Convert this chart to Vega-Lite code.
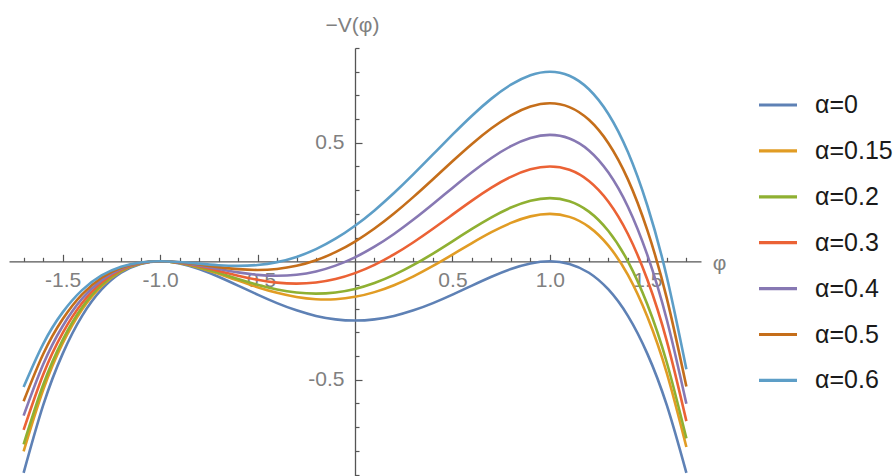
{
  "$schema": "https://vega.github.io/schema/vega-lite/v6.json",
  "width": 692,
  "height": 428,
  "autosize": "none",
  "padding": {"left": 9, "top": 48, "right": 194, "bottom": 0},
  "background": "white",
  "view": {"stroke": null},
  "config": {"font": "Liberation Sans"},
  "data": {"values": [
    {"p":-1.7,"a":"α=0","v":-0.893},{"p":-1.6,"a":"α=0","v":-0.6084},{"p":-1.5,"a":"α=0","v":-0.3906},{"p":-1.4,"a":"α=0","v":-0.2304},{"p":-1.3,"a":"α=0","v":-0.119},{"p":-1.2,"a":"α=0","v":-0.0484},{"p":-1.1,"a":"α=0","v":-0.011},{"p":-1.0,"a":"α=0","v":0},{"p":-0.9,"a":"α=0","v":-0.009},{"p":-0.8,"a":"α=0","v":-0.0324},{"p":-0.7,"a":"α=0","v":-0.065},{"p":-0.6,"a":"α=0","v":-0.1024},{"p":-0.5,"a":"α=0","v":-0.1406},{"p":-0.4,"a":"α=0","v":-0.1764},{"p":-0.3,"a":"α=0","v":-0.207},{"p":-0.2,"a":"α=0","v":-0.2304},{"p":-0.1,"a":"α=0","v":-0.245},{"p":0,"a":"α=0","v":-0.25},{"p":0.1,"a":"α=0","v":-0.245},{"p":0.2,"a":"α=0","v":-0.2304},{"p":0.3,"a":"α=0","v":-0.207},{"p":0.4,"a":"α=0","v":-0.1764},{"p":0.5,"a":"α=0","v":-0.1406},{"p":0.6,"a":"α=0","v":-0.1024},{"p":0.7,"a":"α=0","v":-0.065},{"p":0.8,"a":"α=0","v":-0.0324},{"p":0.9,"a":"α=0","v":-0.009},{"p":1.0,"a":"α=0","v":0},{"p":1.1,"a":"α=0","v":-0.011},{"p":1.2,"a":"α=0","v":-0.0484},{"p":1.3,"a":"α=0","v":-0.119},{"p":1.4,"a":"α=0","v":-0.2304},{"p":1.5,"a":"α=0","v":-0.3906},{"p":1.6,"a":"α=0","v":-0.6084},{"p":1.7,"a":"α=0","v":-0.893},
    {"p":-1.7,"a":"α=0.15","v":-0.8024},{"p":-1.6,"a":"α=0.15","v":-0.5436},{"p":-1.5,"a":"α=0.15","v":-0.3469},{"p":-1.4,"a":"α=0.15","v":-0.2032},{"p":-1.3,"a":"α=0.15","v":-0.1042},{"p":-1.2,"a":"α=0.15","v":-0.042},{"p":-1.1,"a":"α=0.15","v":-0.0095},{"p":-1.0,"a":"α=0.15","v":0},{"p":-0.9,"a":"α=0.15","v":-0.0076},{"p":-0.8,"a":"α=0.15","v":-0.0268},{"p":-0.7,"a":"α=0.15","v":-0.0529},{"p":-0.6,"a":"α=0.15","v":-0.0816},{"p":-0.5,"a":"α=0.15","v":-0.1094},{"p":-0.4,"a":"α=0.15","v":-0.1332},{"p":-0.3,"a":"α=0.15","v":-0.1507},{"p":-0.2,"a":"α=0.15","v":-0.16},{"p":-0.1,"a":"α=0.15","v":-0.16},{"p":0,"a":"α=0.15","v":-0.15},{"p":0.1,"a":"α=0.15","v":-0.1301},{"p":0.2,"a":"α=0.15","v":-0.1008},{"p":0.3,"a":"α=0.15","v":-0.0634},{"p":0.4,"a":"α=0.15","v":-0.0196},{"p":0.5,"a":"α=0.15","v":0.0281},{"p":0.6,"a":"α=0.15","v":0.0768},{"p":0.7,"a":"α=0.15","v":0.1228},{"p":0.8,"a":"α=0.15","v":0.162},{"p":0.9,"a":"α=0.15","v":0.1895},{"p":1.0,"a":"α=0.15","v":0.2},{"p":1.1,"a":"α=0.15","v":0.1874},{"p":1.2,"a":"α=0.15","v":0.1452},{"p":1.3,"a":"α=0.15","v":0.0661},{"p":1.4,"a":"α=0.15","v":-0.0576},{"p":1.5,"a":"α=0.15","v":-0.2344},{"p":1.6,"a":"α=0.15","v":-0.4732},{"p":1.7,"a":"α=0.15","v":-0.7837},
    {"p":-1.7,"a":"α=0.2","v":-0.7722},{"p":-1.6,"a":"α=0.2","v":-0.522},{"p":-1.5,"a":"α=0.2","v":-0.3323},{"p":-1.4,"a":"α=0.2","v":-0.1941},{"p":-1.3,"a":"α=0.2","v":-0.0992},{"p":-1.2,"a":"α=0.2","v":-0.0399},{"p":-1.1,"a":"α=0.2","v":-0.009},{"p":-1.0,"a":"α=0.2","v":0},{"p":-0.9,"a":"α=0.2","v":-0.0071},{"p":-0.8,"a":"α=0.2","v":-0.0249},{"p":-0.7,"a":"α=0.2","v":-0.0488},{"p":-0.6,"a":"α=0.2","v":-0.0747},{"p":-0.5,"a":"α=0.2","v":-0.099},{"p":-0.4,"a":"α=0.2","v":-0.1188},{"p":-0.3,"a":"α=0.2","v":-0.1319},{"p":-0.2,"a":"α=0.2","v":-0.1365},{"p":-0.1,"a":"α=0.2","v":-0.1316},{"p":0,"a":"α=0.2","v":-0.1167},{"p":0.1,"a":"α=0.2","v":-0.0918},{"p":0.2,"a":"α=0.2","v":-0.0576},{"p":0.3,"a":"α=0.2","v":-0.0155},{"p":0.4,"a":"α=0.2","v":0.0327},{"p":0.5,"a":"α=0.2","v":0.0844},{"p":0.6,"a":"α=0.2","v":0.1365},{"p":0.7,"a":"α=0.2","v":0.1854},{"p":0.8,"a":"α=0.2","v":0.2268},{"p":0.9,"a":"α=0.2","v":0.2557},{"p":1.0,"a":"α=0.2","v":0.2667},{"p":1.1,"a":"α=0.2","v":0.2536},{"p":1.2,"a":"α=0.2","v":0.2097},{"p":1.3,"a":"α=0.2","v":0.1278},{"p":1.4,"a":"α=0.2","v":0},{"p":1.5,"a":"α=0.2","v":-0.1823},{"p":1.6,"a":"α=0.2","v":-0.4281},{"p":1.7,"a":"α=0.2","v":-0.7472},
    {"p":-1.7,"a":"α=0.3","v":-0.7117},{"p":-1.6,"a":"α=0.3","v":-0.4788},{"p":-1.5,"a":"α=0.3","v":-0.3031},{"p":-1.4,"a":"α=0.3","v":-0.176},{"p":-1.3,"a":"α=0.3","v":-0.0893},{"p":-1.2,"a":"α=0.3","v":-0.0356},{"p":-1.1,"a":"α=0.3","v":-0.0079},{"p":-1.0,"a":"α=0.3","v":0},{"p":-0.9,"a":"α=0.3","v":-0.0061},{"p":-0.8,"a":"α=0.3","v":-0.0212},{"p":-0.7,"a":"α=0.3","v":-0.0407},{"p":-0.6,"a":"α=0.3","v":-0.0608},{"p":-0.5,"a":"α=0.3","v":-0.0781},{"p":-0.4,"a":"α=0.3","v":-0.09},{"p":-0.3,"a":"α=0.3","v":-0.0943},{"p":-0.2,"a":"α=0.3","v":-0.0896},{"p":-0.1,"a":"α=0.3","v":-0.0749},{"p":0,"a":"α=0.3","v":-0.05},{"p":0.1,"a":"α=0.3","v":-0.0151},{"p":0.2,"a":"α=0.3","v":0.0288},{"p":0.3,"a":"α=0.3","v":0.0803},{"p":0.4,"a":"α=0.3","v":0.1372},{"p":0.5,"a":"α=0.3","v":0.1969},{"p":0.6,"a":"α=0.3","v":0.256},{"p":0.7,"a":"α=0.3","v":0.3107},{"p":0.8,"a":"α=0.3","v":0.3564},{"p":0.9,"a":"α=0.3","v":0.3881},{"p":1.0,"a":"α=0.3","v":0.4},{"p":1.1,"a":"α=0.3","v":0.3859},{"p":1.2,"a":"α=0.3","v":0.3388},{"p":1.3,"a":"α=0.3","v":0.2513},{"p":1.4,"a":"α=0.3","v":0.1152},{"p":1.5,"a":"α=0.3","v":-0.0781},{"p":1.6,"a":"α=0.3","v":-0.338},{"p":1.7,"a":"α=0.3","v":-0.6743},
    {"p":-1.7,"a":"α=0.4","v":-0.6513},{"p":-1.6,"a":"α=0.4","v":-0.4356},{"p":-1.5,"a":"α=0.4","v":-0.274},{"p":-1.4,"a":"α=0.4","v":-0.1579},{"p":-1.3,"a":"α=0.4","v":-0.0794},{"p":-1.2,"a":"α=0.4","v":-0.0313},{"p":-1.1,"a":"α=0.4","v":-0.0069},{"p":-1.0,"a":"α=0.4","v":0},{"p":-0.9,"a":"α=0.4","v":-0.0052},{"p":-0.8,"a":"α=0.4","v":-0.0175},{"p":-0.7,"a":"α=0.4","v":-0.0326},{"p":-0.6,"a":"α=0.4","v":-0.0469},{"p":-0.5,"a":"α=0.4","v":-0.0573},{"p":-0.4,"a":"α=0.4","v":-0.0612},{"p":-0.3,"a":"α=0.4","v":-0.0568},{"p":-0.2,"a":"α=0.4","v":-0.0427},{"p":-0.1,"a":"α=0.4","v":-0.0182},{"p":0,"a":"α=0.4","v":0.0167},{"p":0.1,"a":"α=0.4","v":0.0615},{"p":0.2,"a":"α=0.4","v":0.1152},{"p":0.3,"a":"α=0.4","v":0.176},{"p":0.4,"a":"α=0.4","v":0.2417},{"p":0.5,"a":"α=0.4","v":0.3094},{"p":0.6,"a":"α=0.4","v":0.3755},{"p":0.7,"a":"α=0.4","v":0.4359},{"p":0.8,"a":"α=0.4","v":0.486},{"p":0.9,"a":"α=0.4","v":0.5204},{"p":1.0,"a":"α=0.4","v":0.5333},{"p":1.1,"a":"α=0.4","v":0.5182},{"p":1.2,"a":"α=0.4","v":0.4679},{"p":1.3,"a":"α=0.4","v":0.3747},{"p":1.4,"a":"α=0.4","v":0.2304},{"p":1.5,"a":"α=0.4","v":0.026},{"p":1.6,"a":"α=0.4","v":-0.2479},{"p":1.7,"a":"α=0.4","v":-0.6014},
    {"p":-1.7,"a":"α=0.5","v":-0.5909},{"p":-1.6,"a":"α=0.5","v":-0.3924},{"p":-1.5,"a":"α=0.5","v":-0.2448},{"p":-1.4,"a":"α=0.5","v":-0.1397},{"p":-1.3,"a":"α=0.5","v":-0.0695},{"p":-1.2,"a":"α=0.5","v":-0.0271},{"p":-1.1,"a":"α=0.5","v":-0.0059},{"p":-1.0,"a":"α=0.5","v":0},{"p":-0.9,"a":"α=0.5","v":-0.0042},{"p":-0.8,"a":"α=0.5","v":-0.0137},{"p":-0.7,"a":"α=0.5","v":-0.0245},{"p":-0.6,"a":"α=0.5","v":-0.0331},{"p":-0.5,"a":"α=0.5","v":-0.0365},{"p":-0.4,"a":"α=0.5","v":-0.0324},{"p":-0.3,"a":"α=0.5","v":-0.0192},{"p":-0.2,"a":"α=0.5","v":0.0043},{"p":-0.1,"a":"α=0.5","v":0.0385},{"p":0,"a":"α=0.5","v":0.0833},{"p":0.1,"a":"α=0.5","v":0.1381},{"p":0.2,"a":"α=0.5","v":0.2016},{"p":0.3,"a":"α=0.5","v":0.2718},{"p":0.4,"a":"α=0.5","v":0.3463},{"p":0.5,"a":"α=0.5","v":0.4219},{"p":0.6,"a":"α=0.5","v":0.4949},{"p":0.7,"a":"α=0.5","v":0.5611},{"p":0.8,"a":"α=0.5","v":0.6156},{"p":0.9,"a":"α=0.5","v":0.6528},{"p":1.0,"a":"α=0.5","v":0.6667},{"p":1.1,"a":"α=0.5","v":0.6505},{"p":1.2,"a":"α=0.5","v":0.5969},{"p":1.3,"a":"α=0.5","v":0.4981},{"p":1.4,"a":"α=0.5","v":0.3456},{"p":1.5,"a":"α=0.5","v":0.1302},{"p":1.6,"a":"α=0.5","v":-0.1577},{"p":1.7,"a":"α=0.5","v":-0.5285},
    {"p":-1.7,"a":"α=0.6","v":-0.5304},{"p":-1.6,"a":"α=0.6","v":-0.3492},{"p":-1.5,"a":"α=0.6","v":-0.2156},{"p":-1.4,"a":"α=0.6","v":-0.1216},{"p":-1.3,"a":"α=0.6","v":-0.0596},{"p":-1.2,"a":"α=0.6","v":-0.0228},{"p":-1.1,"a":"α=0.6","v":-0.0048},{"p":-1.0,"a":"α=0.6","v":0},{"p":-0.9,"a":"α=0.6","v":-0.0032},{"p":-0.8,"a":"α=0.6","v":-0.01},{"p":-0.7,"a":"α=0.6","v":-0.0164},{"p":-0.6,"a":"α=0.6","v":-0.0192},{"p":-0.5,"a":"α=0.6","v":-0.0156},{"p":-0.4,"a":"α=0.6","v":-0.0036},{"p":-0.3,"a":"α=0.6","v":0.0184},{"p":-0.2,"a":"α=0.6","v":0.0512},{"p":-0.1,"a":"α=0.6","v":0.0952},{"p":0,"a":"α=0.6","v":0.15},{"p":0.1,"a":"α=0.6","v":0.2148},{"p":0.2,"a":"α=0.6","v":0.288},{"p":0.3,"a":"α=0.6","v":0.3676},{"p":0.4,"a":"α=0.6","v":0.4508},{"p":0.5,"a":"α=0.6","v":0.5344},{"p":0.6,"a":"α=0.6","v":0.6144},{"p":0.7,"a":"α=0.6","v":0.6864},{"p":0.8,"a":"α=0.6","v":0.7452},{"p":0.9,"a":"α=0.6","v":0.7852},{"p":1.0,"a":"α=0.6","v":0.8},{"p":1.1,"a":"α=0.6","v":0.7828},{"p":1.2,"a":"α=0.6","v":0.726},{"p":1.3,"a":"α=0.6","v":0.6216},{"p":1.4,"a":"α=0.6","v":0.4608},{"p":1.5,"a":"α=0.6","v":0.2344},{"p":1.6,"a":"α=0.6","v":-0.0676},{"p":1.7,"a":"α=0.6","v":-0.4556}
  ]},
  "mark": {"type": "line", "interpolate": "natural", "strokeWidth": 2.6, "clip": true},
  "encoding": {
    "x": {
      "field": "p", "type": "quantitative",
      "scale": {"domain": [-1.775, 1.775], "nice": false, "zero": false},
      "axis": {
        "orient": "bottom", "offset": -214.7,
        "values": [-1.7,-1.6,-1.5,-1.4,-1.3,-1.2,-1.1,-1.0,-0.9,-0.8,-0.7,-0.6,-0.5,-0.4,-0.3,-0.2,-0.1,0.1,0.2,0.3,0.4,0.5,0.6,0.7,0.8,0.9,1.0,1.1,1.2,1.3,1.4,1.5,1.6,1.7],
        "labelExpr": "abs(datum.value*2 - round(datum.value*2)) < 0.001 ? replace(format(datum.value, '.1f'), '−', '-') : ''",
        "tickSize": {"condition": {"test": "abs(datum.value*2 - round(datum.value*2)) < 0.001", "value": -7}, "value": -4},
        "tickColor": "#555", "tickWidth": 1.2,
        "domainColor": "#555", "domainWidth": 1.3,
        "grid": false,
        "labelFont": "Liberation Sans", "labelFontSize": 21, "labelColor": "#808080",
        "labelPadding": 15.5, "labelOverlap": false, "labelFlush": false, "labelBound": false,
        "title": "φ", "titleFont": "Liberation Sans", "titleFontSize": 21, "titleFontWeight": "normal", "titleColor": "#808080",
        "titleX": 710, "titleY": 2, "titleAlign": "center", "titleBaseline": "middle", "titleAngle": 0
      }
    },
    "y": {
      "field": "v", "type": "quantitative",
      "scale": {"domain": [-0.906, 0.9], "nice": false, "zero": false},
      "axis": {
        "orient": "left", "offset": -346,
        "values": [-0.9,-0.8,-0.7,-0.6,-0.5,-0.4,-0.3,-0.2,-0.1,0.1,0.2,0.3,0.4,0.5,0.6,0.7,0.8,0.9],
        "labelExpr": "abs(abs(datum.value) - 0.5) < 0.001 ? replace(format(datum.value, '.1f'), '−', '-') : ''",
        "tickSize": {"condition": {"test": "abs(abs(datum.value) - 0.5) < 0.001", "value": -7}, "value": -4},
        "tickColor": "#555", "tickWidth": 1.2,
        "domainColor": "#555", "domainWidth": 1.3,
        "grid": false,
        "labelFont": "Liberation Sans", "labelFontSize": 21, "labelColor": "#808080",
        "labelPadding": 18, "labelOverlap": false, "labelFlush": false, "labelBound": false,
        "title": "−V(φ)", "titleFont": "Liberation Sans", "titleFontSize": 21, "titleFontWeight": "normal", "titleColor": "#808080",
        "titleX": -3, "titleY": -23, "titleAlign": "center", "titleBaseline": "middle", "titleAngle": 0
      }
    },
    "color": {
      "field": "a", "type": "nominal",
      "scale": {
        "domain": ["α=0","α=0.15","α=0.2","α=0.3","α=0.4","α=0.5","α=0.6"],
        "range": ["#5E81B5","#E19C24","#8FB032","#EB6235","#8778B3","#C56E1A","#5D9EC7"]
      },
      "legend": {
        "title": null, "orient": "none", "legendX": 748, "legendY": 36,
        "symbolType": "stroke", "symbolSize": 1444, "symbolStrokeWidth": 3.2,
        "labelFont": "Liberation Sans", "labelFontSize": 25, "labelColor": "#1a1a1a",
        "labelOffset": 16, "rowPadding": 11.9, "padding": 0
      }
    }
  }
}
